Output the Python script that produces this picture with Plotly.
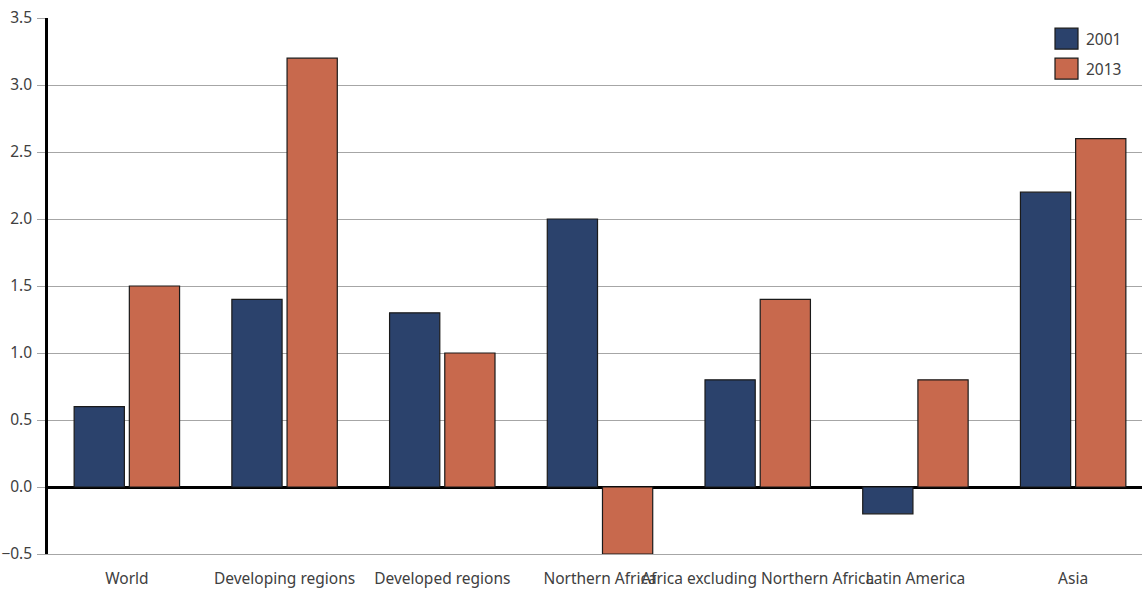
import plotly.graph_objects as go

categories = ["World", "Developing regions", "Developed regions", "Northern Africa",
              "Africa excluding Northern Africa", "Latin America", "Asia"]
values_2001 = [0.6, 1.4, 1.3, 2.0, 0.8, -0.2, 2.2]
values_2013 = [1.5, 3.2, 1.0, -0.5, 1.4, 0.8, 2.6]
series_names = ["2001", "2013"]
colors = ["#2b426c", "#c8694d"]

fig = go.Figure()
for name, vals, col in zip(series_names, [values_2001, values_2013], colors):
    fig.add_trace(go.Bar(
        x=categories, y=vals, name=name,
        marker=dict(color=col, line=dict(color="#1a1a1a", width=1.2)),
        showlegend=False,
    ))

# custom legend (larger swatches like reference); plot area spans x 48..1152 px
pw = 1104.0
legend_y = [(0.981, 0.942), (0.925, 0.886)]
for (y1, y0), name, col in zip(legend_y, series_names, colors):
    fig.add_shape(type="rect", xref="paper", yref="paper",
                  x0=(1055 - 48) / pw, x1=(1078 - 48) / pw, y0=y0, y1=y1,
                  fillcolor=col, line=dict(color="#1a1a1a", width=1.2))
    fig.add_annotation(xref="paper", yref="paper", x=(1084 - 48) / pw, y=(y0 + y1) / 2,
                       text=name, showarrow=False, xanchor="left", yanchor="middle",
                       font=dict(size=15.5, color="#404040"))

fig.update_layout(
    width=1152, height=593,
    margin=dict(l=48, r=0, t=18, b=39, autoexpand=False),
    showlegend=False,
    paper_bgcolor="white", plot_bgcolor="white",
    barmode="group", bargap=0.30, bargroupgap=0.09,
    font=dict(family="Noto Sans, Open Sans, sans-serif", size=15.5, color="#404040"),
    xaxis=dict(showgrid=False, showline=True, linecolor="#a6a6a6", linewidth=1,
               ticks="", tickangle=0, automargin=False, ticklabelstandoff=10,
               tickfont=dict(size=15.5, color="#404040")),
    yaxis=dict(range=[-0.5, 3.5], dtick=0.5, tick0=0, tickformat=".1f",
               automargin=False, ticklabelstandoff=2, ticklabeloverflow="allow",
               showgrid=True, gridcolor="#a6a6a6", gridwidth=1,
               zeroline=True, zerolinecolor="#000000", zerolinewidth=2.5,
               showline=True, linecolor="#000000", linewidth=2.5,
               ticks="outside", ticklen=8, tickcolor="#a6a6a6",
               tickfont=dict(size=15.5, color="#404040")),
)

fig.write_html(
    "out.html",
    config={"displayModeBar": False},
    post_script="document.body.style.margin='0';document.body.style.overflow='hidden';",
)
